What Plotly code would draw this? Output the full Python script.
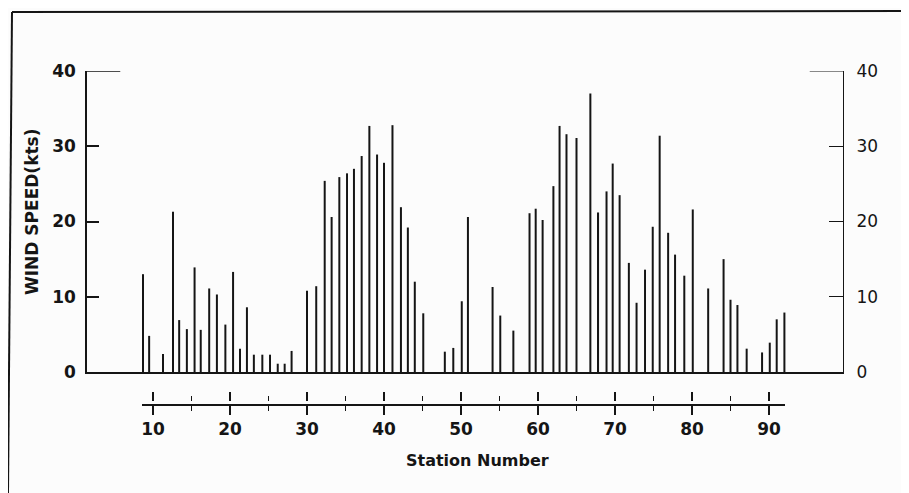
import plotly.graph_objects as go

# station positions (station number) and wind speed (kts)
stations = [8.7, 9.5, 11.3, 12.6, 13.4, 14.4, 15.4, 16.2, 17.3, 18.3,
            19.4, 20.4, 21.3, 22.2, 23.1, 24.2, 25.2, 26.2, 27.1, 28.0,
            30.0, 31.2, 32.3, 33.2, 34.2, 35.2, 36.1, 37.1, 38.1, 39.1,
            40.0, 41.1, 42.2, 43.1, 44.0, 45.1, 47.9, 49.0, 50.1, 50.9,
            54.1, 55.1, 56.8, 58.9, 59.7, 60.6, 62.0, 62.8, 63.7, 65.0,
            66.8, 67.8, 68.9, 69.7, 70.6, 71.8, 72.8, 73.9, 74.9, 75.8,
            76.9, 77.8, 79.0, 80.1, 82.1, 84.1, 85.0, 85.9, 87.1, 89.1,
            90.1, 91.0, 92.0]
wind_kts = [13.0, 4.8, 2.4, 21.3, 6.9, 5.7, 13.9, 5.6, 11.1, 10.3,
            6.3, 13.3, 3.1, 8.6, 2.3, 2.3, 2.3, 1.1, 1.1, 2.8,
            10.8, 11.4, 25.4, 20.6, 25.9, 26.4, 27.0, 28.7, 32.7, 28.9,
            27.8, 32.8, 21.9, 19.2, 12.0, 7.8, 2.7, 3.2, 9.4, 20.6,
            11.3, 7.5, 5.5, 21.1, 21.7, 20.2, 24.7, 32.7, 31.6, 31.1,
            37.0, 21.2, 24.0, 27.7, 23.5, 14.5, 9.2, 13.6, 19.3, 31.4,
            18.5, 15.6, 12.8, 21.6, 11.1, 15.0, 9.6, 8.9, 3.1, 2.6,
            3.9, 7.0, 7.9]

y_ticks = [0, 10, 20, 30, 40]
x_ticks = [10, 20, 30, 40, 50, 60, 70, 80, 90]
x_minor = [15, 25, 35, 45, 55, 65, 75, 85]

W, H = 909, 493
ink = "#151515"
bold = dict(family="DejaVu Sans", size=17, color=ink, weight="bold")
plain = dict(family="DejaVu Sans", size=17, color=ink)

# page pixel -> paper; the html body adds an 8px offset, margins are zero
def px(x):
    return (x - 8) / W

def py(y):
    return 1 - (y - 8) / H

fig = go.Figure()
fig.add_trace(go.Bar(x=stations, y=wind_kts, width=0.26,
                     marker=dict(color=ink, line=dict(width=0)),
                     xaxis="x", yaxis="y", showlegend=False))
# empty helper traces so the extra axes get drawn
for xa, ya in [("x", "y2"), ("x2", "y3"), ("x3", "y3")]:
    fig.add_trace(go.Scatter(x=[50], y=[0], mode="markers", marker=dict(opacity=0),
                             xaxis=xa, yaxis=ya, hoverinfo="skip", showlegend=False))

tick_x = dict(tickmode="array", tickvals=x_ticks, ticks="outside", ticklen=9,
              tickcolor=ink, tickwidth=1.5,
              minor=dict(tickmode="array", tickvals=x_minor, ticks="outside",
                         ticklen=5, tickcolor=ink, tickwidth=1.2),
              range=[8.57, 92.08], automargin=False,
              showgrid=False, zeroline=False)

fig.update_layout(
    width=W, height=H,
    margin=dict(l=0, r=0, t=0, b=0, pad=0, autoexpand=False),
    paper_bgcolor="#fcfcfc", plot_bgcolor="rgba(0,0,0,0)",
    showlegend=False,
    # upper panel
    xaxis=dict(domain=[px(87), px(843)], range=[1.43, 99.61], anchor="y",
               showline=True, linecolor=ink, linewidth=1.8, automargin=False,
               showticklabels=False, ticks="", showgrid=False, zeroline=False),
    yaxis=dict(domain=[py(372), py(71)], range=[0, 40], anchor="x",
               showline=True, linecolor=ink, linewidth=1.6, automargin=False,
               tickmode="array", tickvals=y_ticks, ticks="inside", ticklen=12,
               tickcolor=ink, tickwidth=1.5, tickfont=bold, ticklabelstandoff=6,
               showgrid=False, zeroline=False),
    yaxis2=dict(overlaying="y", side="right", anchor="x", range=[0, 40],
                showline=True, linecolor=ink, linewidth=1.3, automargin=False,
                tickmode="array", tickvals=y_ticks, ticks="inside", ticklen=14,
                tickcolor=ink, tickwidth=1.2, tickfont=plain,
                ticklabelstandoff=9, showgrid=False, zeroline=False),
    # detached station axis
    yaxis3=dict(domain=[py(404), py(402)], range=[0, 1], anchor="x2",
                visible=False, automargin=False),
    xaxis2=dict(domain=[px(142), px(785)], anchor="y3", side="bottom",
                showline=True, linecolor=ink, linewidth=1.5,
                tickfont=bold, ticklabelstandoff=0, **tick_x),
    xaxis3=dict(overlaying="x2", anchor="y3", side="top",
                showline=False, showticklabels=False, **tick_x),
)

# top tick flags at 40 on both y axes, and the page frame
fig.add_shape(type="line", xref="x domain", yref="y", x0=0, x1=0.044, y0=40, y1=40,
              line=dict(color=ink, width=1.5))
fig.add_shape(type="line", xref="x domain", yref="y", x0=0.956, x1=1, y0=40, y1=40,
              line=dict(color=ink, width=1.2))
fig.add_shape(type="line", xref="paper", yref="paper", x0=px(12), x1=px(909),
              y0=py(12), y1=py(11), line=dict(color=ink, width=2))
fig.add_shape(type="line", xref="paper", yref="paper", x0=px(12), x1=px(8),
              y0=py(12), y1=py(493), line=dict(color=ink, width=2))

fig.add_annotation(text="WIND SPEED(kts)", textangle=-90, showarrow=False,
                   xref="paper", yref="paper", x=px(32), y=py(212),
                   xanchor="center", yanchor="middle",
                   font=dict(family="DejaVu Sans", size=17, color=ink, weight="bold"))
fig.add_annotation(text="Station Number", showarrow=False,
                   xref="paper", yref="paper", x=px(477), y=py(460),
                   xanchor="center", yanchor="middle",
                   font=dict(family="DejaVu Sans", size=16, color=ink, weight="bold"))

fig.write_html("out.html")
